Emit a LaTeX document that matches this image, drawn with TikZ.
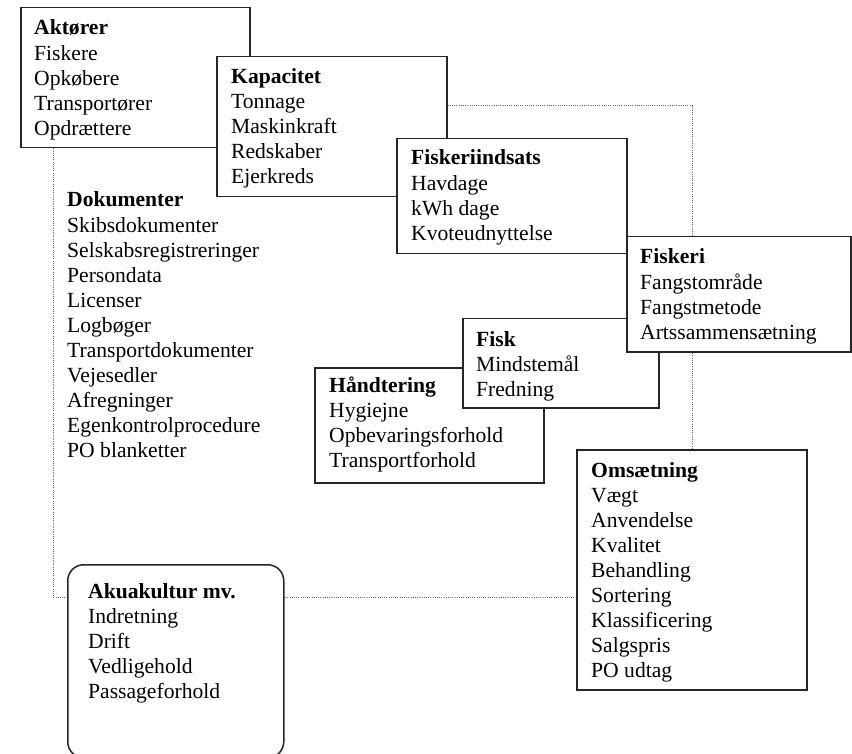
\documentclass[tikz,border=0pt]{standalone}
\usepackage{fontspec}
\setmainfont{Liberation Serif}
\newcommand\boxlist[2]{\begin{tabular}[t]{@{}l@{}}\textbf{#1}\\#2\end{tabular}}
\begin{document}
\begin{tikzpicture}[x=1pt,y=-1pt,
  box/.style={draw=black!85, line width=1.5pt, fill=white, rectangle, inner sep=0pt, anchor=north west},
  roundbox/.style={box, rounded corners=16pt},
  txt/.style={inner sep=0pt, anchor=base west, font=\fontsize{21.6}{25.1}\selectfont, text=black},
  dotline/.style={draw=black!60, line width=1pt, dash pattern=on 1pt off 1.2pt}]
\useasboundingbox (0,0) rectangle (852,754);
\coordinate (c1) at (53,597);
\coordinate (c2) at (692,106);

\node[box, minimum width=229pt, minimum height=140pt] (akt) at (20,7) {};
\node[txt] (aktt) at ([shift={(14,28)}]akt.north west) {\boxlist{Aktører}{Fiskere\\Opkøbere\\Transportører\\Opdrættere}};

\node[box, minimum width=230pt, minimum height=140pt] (kap) at (216,56) {};
\node[txt] (kapt) at ([shift={(15,27.5)}]kap.north west) {\boxlist{Kapacitet}{Tonnage\\Maskinkraft\\Redskaber\\Ejerkreds}};

\node[txt] (dokt) at (67,207) {\boxlist{Dokumenter}{Skibsdokumenter\\Selskabsregistreringer\\Persondata\\Licenser\\Logbøger\\Transportdokumenter\\Vejesedler\\Afregninger\\Egenkontrolprocedure\\PO blanketter}};

\path (396,138) coordinate (fidnw);
\path (626,236) coordinate (fisnw) (850,351) coordinate (fisse);
\path (576,449) coordinate (omsnw) (806,689) coordinate (omsse);
\path (67,564) coordinate (akunw) (283,757) coordinate (akuse);

\draw[dotline] (c1 |- akt.south) -- (c1) -- (akunw |- c1);
\draw[dotline] (akuse |- c1) -- (omsnw |- c1);
\draw[dotline] (kap.east |- c2) -- (c2) -- (c2 |- fisnw);
\draw[dotline] (c2 |- fisse) -- (c2 |- omsnw);

\node[box, minimum width=230pt, minimum height=115pt] (fid) at (fidnw) {};
\node[txt] (fidt) at ([shift={(15,27)}]fid.north west) {\boxlist{Fiskeriindsats}{Havdage\\kWh dage\\Kvoteudnyttelse}};

\node[box, minimum width=229pt, minimum height=115pt] (hand) at (314,367) {};
\node[txt] (handt) at ([shift={(15,25)}]hand.north west) {\boxlist{Håndtering}{Hygiejne\\Opbevaringsforhold\\Transportforhold}};

\node[box, minimum width=196pt, minimum height=89pt] (fisk) at (462,318) {};
\node[txt] (fiskt) at ([shift={(14,28)}]fisk.north west) {\boxlist{Fisk}{Mindstemål\\Fredning}};

\node[box, minimum width=224pt, minimum height=115pt] (fiskeri) at (fisnw) {};
\node[txt] (fiskerit) at ([shift={(14,28)}]fiskeri.north west) {\boxlist{Fiskeri}{Fangstområde\\Fangstmetode\\Artssammensætning}};

\node[box, minimum width=230pt, minimum height=240pt] (oms) at (omsnw) {};
\node[txt] (omst) at ([shift={(15,28)}]oms.north west) {\boxlist{Omsætning}{Vægt\\Anvendelse\\Kvalitet\\Behandling\\Sortering\\Klassificering\\Salgspris\\PO udtag}};

\node[roundbox, minimum width=216pt, minimum height=193pt] (aku) at (akunw) {};
\node[txt] (akut) at ([shift={(21,34)}]aku.north west) {\boxlist{Akuakultur mv.}{Indretning\\Drift\\Vedligehold\\Passageforhold}};
\end{tikzpicture}
\end{document}
